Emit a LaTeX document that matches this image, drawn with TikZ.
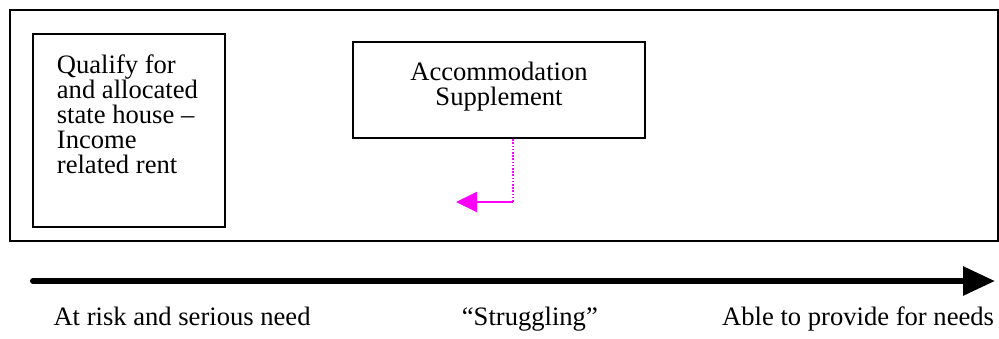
\documentclass[tikz,border=0pt]{standalone}
\usepackage{fontspec}
\setmainfont{Liberation Serif}
\usetikzlibrary{arrows.meta}
\definecolor{pink}{RGB}{255,0,255}
\begin{document}
\begin{tikzpicture}[x=1pt,y=-1pt,
  frame/.style={draw=black,line width=2.2pt},
  box/.style={draw=black,line width=2.2pt,inner sep=0pt},
  txt/.style={font=\fontsize{26.6}{25}\selectfont,inner sep=0pt},
  lbl/.style={font=\fontsize{26.6}{25}\selectfont,inner sep=0pt,anchor=base west}]
\useasboundingbox (0,0) rectangle (999,338);
\node[frame,minimum width=988pt,minimum height=231pt,inner sep=0pt] (outer) at (504,125.5) {};
\node[box,minimum width=192pt,minimum height=193pt] (q) at (129,130.5) {};
\node[txt,align=left,anchor=base west] (qt) at (56.7,173.5) {Qualify for\\and allocated\\state house --\\Income\\related rent};
\node[box,minimum width=292pt,minimum height=96pt] (s) at (499,90) {};
\node[txt,align=center,anchor=base] (st) at (499,105) {Accommodation\\Supplement};
\coordinate (corner) at (513,202);
\coordinate (tip) at (456,202);
\draw[pink,line width=1.6pt,dash pattern=on 1.6pt off 1.6pt] (s.south -| corner) -- (corner);
\draw[pink,line width=2pt,-{Triangle[length=21pt,width=20pt]}] (corner) -- (tip);
\coordinate (a0) at (33,281);
\coordinate (a1) at (995,281);
\draw[line width=6pt,line cap=round,-{Triangle[length=32pt,width=28pt,line cap=butt]}] (a0) -- (a1);
\node[lbl] (l1) at (53.3,325) {At risk and serious need};
\node[lbl] (l2) at (461.7,325) {``Struggling''};
\node[lbl] (l3) at (722,325) {Able to provide for needs};
\end{tikzpicture}
\end{document}
